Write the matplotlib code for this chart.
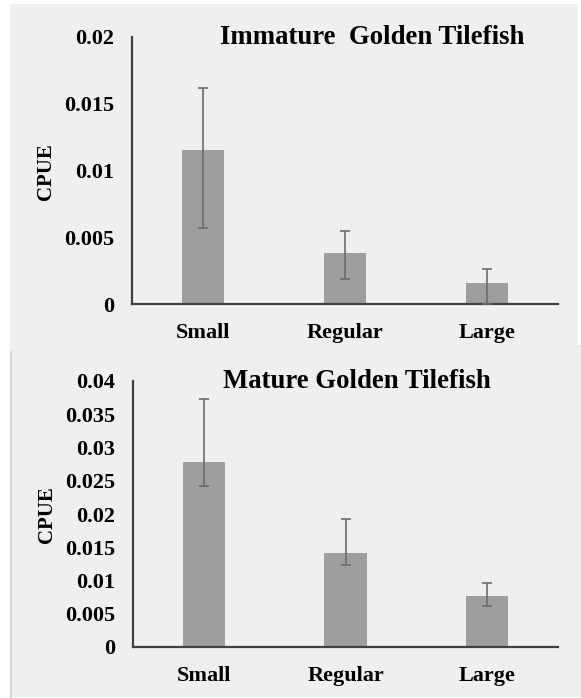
import matplotlib
matplotlib.use("Agg")
import matplotlib.pyplot as plt
from matplotlib.patches import Rectangle
from matplotlib.lines import Line2D

# ---- data ----
categories = ["Small", "Regular", "Large"]

immature_cpue = [0.01155, 0.0038, 0.00155]
immature_err_upper = [0.0162, 0.0055, 0.00265]
immature_err_lower = [0.0057, 0.00185, 0.0]
immature_ticks = [0, 0.005, 0.01, 0.015, 0.02]
immature_ticklabels = ["0", "0.005", "0.01", "0.015", "0.02"]

mature_cpue = [0.02775, 0.0142, 0.0076]
mature_err_upper = [0.03725, 0.0192, 0.00966]
mature_err_lower = [0.02425, 0.0124, 0.0061]
mature_ticks = [0, 0.005, 0.01, 0.015, 0.02, 0.025, 0.03, 0.035, 0.04]
mature_ticklabels = ["0", "0.005", "0.01", "0.015", "0.02", "0.025", "0.03", "0.035", "0.04"]

titles = ["Immature  Golden Tilefish", "Mature Golden Tilefish"]
ylabel = "CPUE"

# ---- style ----
W, H = 581, 698
DPI = 100
SERIF = ["Liberation Serif", "DejaVu Serif"]
BG = "#efefef"
BAR = "#9e9e9e"
ERR = "#6b6b6b"
AX = "#404040"

fig = plt.figure(figsize=(W / DPI, H / DPI), dpi=DPI)
fig.patch.set_facecolor("white")

def px(x0, y0, x1, y1):
    return (x0 / W, 1 - y1 / H, (x1 - x0) / W, (y1 - y0) / H)

# panel backgrounds
l, b, w, h = px(10, 4, 578, 345)
fig.patches.append(Rectangle((l, b), w, h, transform=fig.transFigure,
                             facecolor=BG, edgecolor="none", zorder=-10))
l, b, w, h = px(10, 345, 581, 697)
fig.patches.append(Rectangle((l, b), w, h, transform=fig.transFigure,
                             facecolor=BG, edgecolor="none", zorder=-10))
fig.lines.append(Line2D([11 / W, 11 / W], [1 - 352 / H, 1 - 697 / H],
                        transform=fig.transFigure, color="#d6d6d6", lw=1.5,
                        zorder=-9))

panels = [
    dict(box=(132, 37, 558, 304), vals=immature_cpue, up=immature_err_upper,
         lo=immature_err_lower, ticks=immature_ticks, tl=immature_ticklabels,
         ymax=0.02, title=titles[0], tpos=(372, 38), ypos=(45.5, 172)),
    dict(box=(133, 381, 558, 647), vals=mature_cpue, up=mature_err_upper,
         lo=mature_err_lower, ticks=mature_ticks, tl=mature_ticklabels,
         ymax=0.04, title=titles[1], tpos=(357, 381), ypos=(47, 515)),
]

for p in panels:
    x0, y0, x1, y1 = p["box"]
    ax = fig.add_axes(px(x0, y0, x1, y1))
    ax.set_facecolor("none")
    xs = list(range(len(categories)))
    yerr = [[v - lo for v, lo in zip(p["vals"], p["lo"])],
            [u - v for v, u in zip(p["vals"], p["up"])]]
    ax.bar(xs, p["vals"], width=0.30, color=BAR, zorder=2)
    ax.errorbar(xs, p["vals"], yerr=yerr, fmt="none", ecolor=ERR,
                elinewidth=1.2, capsize=3.5, capthick=1.2, zorder=3)
    ax.set_xlim(-0.5, len(categories) - 0.5)
    ax.set_ylim(0, p["ymax"])
    ax.set_yticks(p["ticks"])
    ax.set_yticklabels(p["tl"], fontfamily=SERIF, fontweight="bold", fontsize=16)
    ax.set_xticks(xs)
    ax.set_xticklabels(categories, fontfamily=SERIF, fontweight="bold", fontsize=16)
    ax.tick_params(axis="y", length=0, pad=13)
    ax.tick_params(axis="x", length=0, pad=14)
    for s in ["top", "right"]:
        ax.spines[s].set_visible(False)
    for s in ["left", "bottom"]:
        ax.spines[s].set_color(AX)
        ax.spines[s].set_linewidth(1.6)
    tx, ty = p["tpos"]
    fig.text(tx / W, 1 - ty / H, p["title"], ha="center", va="center",
             fontfamily=SERIF, fontweight="bold", fontsize=19.3)
    lx, ly = p["ypos"]
    fig.text(lx / W, 1 - ly / H, ylabel, ha="center", va="center", rotation=90,
             fontfamily=SERIF, fontweight="bold", fontsize=15)

fig.savefig("out.png", dpi=DPI)
